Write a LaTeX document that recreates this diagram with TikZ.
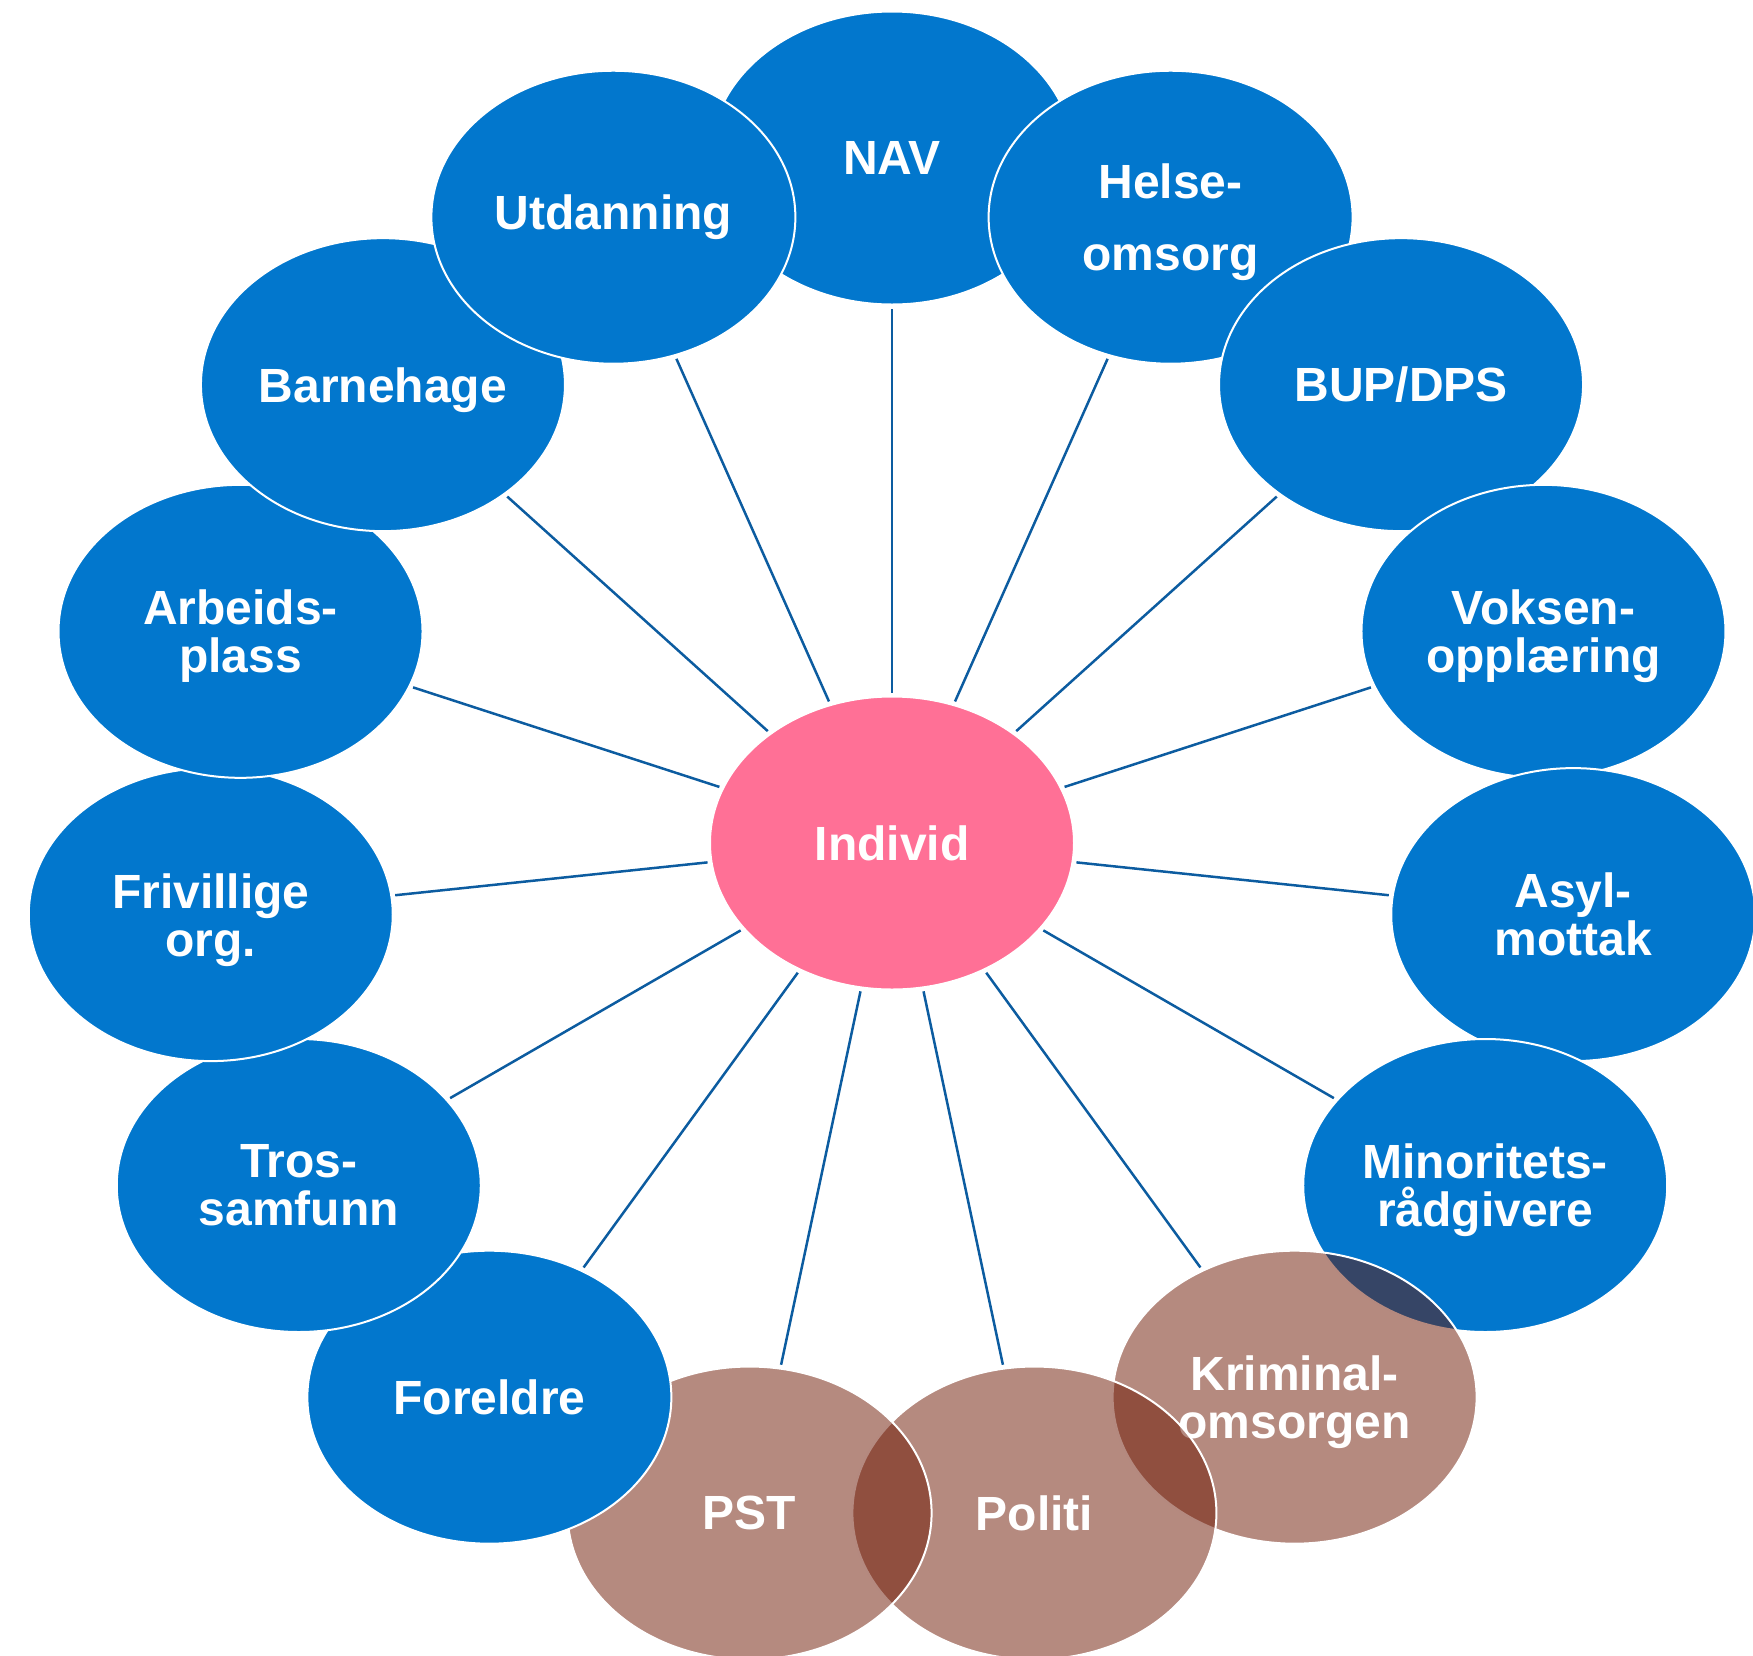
\documentclass[tikz,border=0pt]{standalone}
\usepackage{fontspec}
\setmainfont{Liberation Sans}
\usetikzlibrary{shapes.geometric,calc}
\definecolor{sblue}{RGB}{2,119,205}
\definecolor{spink}{RGB}{255,112,150}
\definecolor{sbrown}{RGB}{107,21,0}
\definecolor{sline}{RGB}{12,92,160}
\newcommand{\nodep}[1]{\raisebox{0pt}[\height][0pt]{#1}}
\pgfdeclarelayer{bg}
\pgfsetlayers{bg,main}
\begin{document}
\begin{tikzpicture}[x=0.5pt,y=-0.5pt,
  bub/.style={ellipse, minimum width=182pt, minimum height=146.5pt, inner sep=0pt,
    draw=white, line width=1pt, text=white,
    font=\bfseries\fontsize{24}{24}\selectfont, align=center},
  bluebub/.style={bub, fill=sblue},
  pinkbub/.style={bub, fill=spink},
  brownbub/.style={bub, fill=sbrown, fill opacity=0.5, draw opacity=1, text opacity=1},
  conn/.style={draw=sline, line width=1.25pt, shorten <=1.5pt, shorten >=1.5pt}]
\useasboundingbox (0,0) rectangle (1753,1656);
\coordinate (c) at (892,843);
\node[pinkbub] (ind) at (c) {Individ};
\node[bluebub] (nav) at ($(c)+(-90:685)$) {NAV};
\node[bluebub] (helse) at ($(c)+(-66:685)$) {Helse-\\[12pt]\nodep{omsorg}};
\node[bluebub] (bup) at ($(c)+(-42:685)$) {BUP/DPS};
\node[bluebub] (voksen) at ($(c)+(-18:685)$) {Voksen-\\\nodep{opplæring}};
\node[bluebub] (asyl) at ($(c)+(6:685)$) {Asyl-\\mottak};
\node[bluebub] (minor) at ($(c)+(30:685)$) {Minoritets-\\\nodep{rådgivere}};
\node[brownbub] (krim) at ($(c)+(54:685)$) {Kriminal-\\\nodep{omsorgen}};
\node[brownbub] (politi) at ($(c)+(78:685)$) {Politi};
\node[brownbub] (pst) at ($(c)+(102:685)$) {PST};
\node[bluebub] (foreldre) at ($(c)+(126:685)$) {Foreldre};
\node[bluebub] (tros) at ($(c)+(150:685)$) {Tros-\\samfunn};
\node[bluebub] (friv) at ($(c)+(174:685)$) {Frivillige\\\nodep{org.}};
\node[bluebub] (arb) at ($(c)+(198:685)$) {Arbeids-\\\nodep{plass}};
\node[bluebub] (barn) at ($(c)+(222:685)$) {\nodep{Barnehage}};
\node[bluebub] (utd) at ($(c)+(246:685)$) {Utdanning};
\begin{pgfonlayer}{bg}
\foreach \n in {nav,helse,bup,voksen,asyl,minor,krim,politi,pst,foreldre,tros,friv,arb,barn,utd}
  \draw[conn] (ind) -- (\n);
\end{pgfonlayer}
\end{tikzpicture}
\end{document}
